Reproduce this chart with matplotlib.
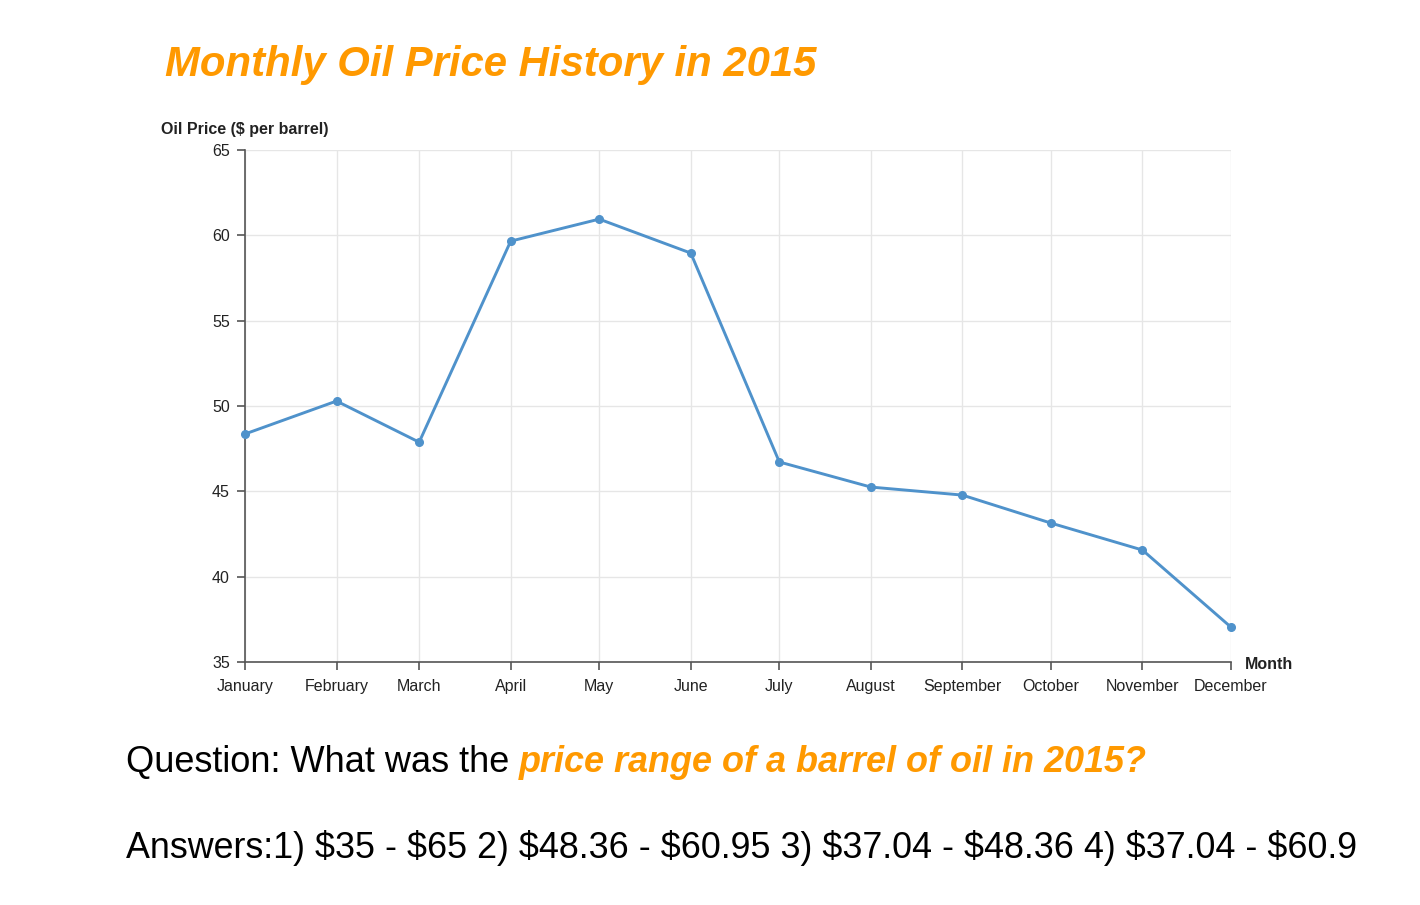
import matplotlib.pyplot as plt
import datetime as dt

plt.rcParams['font.family'] = ['Liberation Sans', 'DejaVu Sans']

# данные: цена нефти по месяцам 2015
months = ['January', 'February', 'March', 'April', 'May', 'June', 'July',
          'August', 'September', 'October', 'November', 'December']
prices = [48.36, 50.29, 47.88, 59.66, 60.95, 58.96, 46.72, 45.25, 44.78,
          43.14, 41.56, 37.04]
y_ticks = [35, 40, 45, 50, 55, 60, 65]

title = 'Monthly Oil Price History in 2015'
question_a = 'Question: What was the '
question_b = 'price range of a barrel of oil in 2015?'
answers = 'Answers:1) $35 - $65 2) $48.36 - $60.95 3) $37.04 - $48.36 4) $37.04 - $60.9'

orange = '#ff9900'
line_col = '#4f92cb'
axis_col = '#555555'
grid_col = '#e6e6e6'

dates = [dt.date(2015, i + 1, 1) for i in range(len(months))]

fig = plt.figure(figsize=(14.2, 9.05), dpi=100)
ax = fig.add_axes([245 / 1420, 1 - 662 / 905, 986 / 1420, 512 / 905])

ax.plot(dates, prices, color=line_col, lw=2.1, marker='o', ms=5.5,
        clip_on=False, zorder=3)

ax.set_xlim(dates[0], dates[-1])
ax.set_ylim(35, 65)
ax.set_xticks(dates)
ax.set_xticklabels(months)
ax.set_yticks(y_ticks)
ax.grid(True, color=grid_col, lw=1)
ax.set_axisbelow(True)

for s in ['top', 'right']:
    ax.spines[s].set_visible(False)
for s in ['left', 'bottom']:
    ax.spines[s].set_color(axis_col)
    ax.spines[s].set_linewidth(1.2)
ax.tick_params(axis='both', colors=axis_col, length=6, width=1.2,
               labelsize=11.5, labelcolor='#222222')
ax.tick_params(axis='x', pad=6)
ax.tick_params(axis='y', pad=5)

# подписи осей
fig.text(161 / 1420, 1 - 129 / 905, 'Oil Price ($ per barrel)', fontsize=11.5,
         fontweight='bold', color='#222222', va='center', ha='left',
         parse_math=False)
fig.text(1245 / 1420, 1 - 664 / 905, 'Month', fontsize=11.5,
         fontweight='bold', color='#222222', va='center', ha='left')

# заголовок
fig.text(165 / 1420, 1 - 65 / 905, title, fontsize=30.2, fontweight='bold',
         fontstyle='italic', color=orange, va='center', ha='left')

# вопрос и ответы
t1 = fig.text(126 / 1420, 1 - 772 / 905, question_a, fontsize=26,
              color='black', va='baseline', ha='left')
fig.canvas.draw()
bb = t1.get_window_extent(renderer=fig.canvas.get_renderer())
x1 = bb.x1 / fig.bbox.width
fig.text(x1, 1 - 772 / 905, question_b, fontsize=25.9, fontweight='bold',
         fontstyle='italic', color=orange, va='baseline', ha='left')
fig.text(126 / 1420, 1 - 858 / 905, answers, fontsize=25.85, color='black',
         va='baseline', ha='left', parse_math=False)

fig.savefig('out.png', dpi=100)
